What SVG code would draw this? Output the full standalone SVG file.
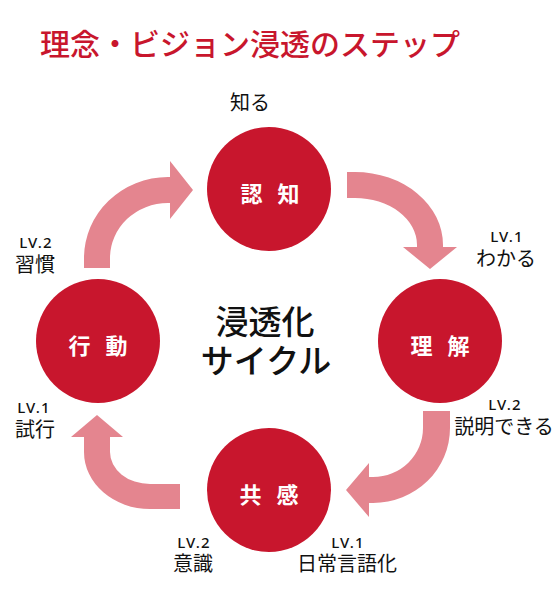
<svg xmlns="http://www.w3.org/2000/svg" width="560" height="594" viewBox="0 0 560 594">
<style>
.circ{fill:#c8162d}
.arr{fill:#e4858f}
.nl{font-family:"Noto Sans CJK JP","Noto Sans",sans-serif;font-size:22px;font-weight:700;fill:#fff;text-anchor:middle;word-spacing:10px}
.lv{font-family:"Noto Sans","Noto Sans CJK JP",sans-serif;font-size:15px;font-weight:500;fill:#111;text-anchor:middle;letter-spacing:1.2px}
.lb{font-family:"Noto Sans CJK JP","Noto Sans",sans-serif;font-size:20px;fill:#111;text-anchor:middle}
.ct{font-family:"Noto Sans CJK JP","Noto Sans",sans-serif;font-size:33px;font-weight:500;fill:#111;text-anchor:middle}
</style>
<rect width="560" height="594" fill="#fff"/>
<text x="40" y="55" font-family="'Noto Sans CJK JP','Noto Sans',sans-serif" font-size="30" font-weight="500" fill="#c8162d">理念・ビジョン浸透のステップ</text>
<text class="lb" x="250" y="110">知る</text>
<g id="connectors">
<path class="arr" d="M84,268 L84,258 A84,81 0 0 1 168,177 L170,177 L170,161 L193,190 L170,219 L170,203 L168,203 A58,55 0 0 0 110,258 L110,268 Z"/>
<path class="arr" d="M347,172 L355,172 A88,73 0 0 1 443,245 L443,247 L457,247 L430,269 L403,247 L417,247 L417,245 A62,47 0 0 0 355,198 L347,198 Z"/>
<path class="arr" d="M423,411 L450,411 L450,428 A77,75 0 0 1 373,503 L369,503 L369,517 L346,490 L369,463 L369,477 L373,477 A50,49 0 0 0 423,428 Z"/>
<path class="arr" d="M180,484 L180,509 L150,509 A66,57 0 0 1 84,452 L84,437 L71,437 L97,415 L123,437 L110,437 L110,452 A40,32 0 0 0 150,484 Z"/>
</g>
<g id="node-ninchi">
<circle class="circ" cx="269" cy="189" r="62"/>
<text class="nl" x="270" y="202">認 知</text>
</g>
<g id="node-rikai">
<circle class="circ" cx="440" cy="341" r="62"/>
<text class="nl" x="440" y="354">理 解</text>
</g>
<g id="node-kyokan">
<circle class="circ" cx="269" cy="490" r="62"/>
<text class="nl" x="269" y="503">共 感</text>
</g>
<g id="node-kodo">
<circle class="circ" cx="98" cy="341" r="62"/>
<text class="nl" x="98" y="354">行 動</text>
</g>
<g id="center">
<text class="ct" x="265" y="334">浸透化</text>
<text class="ct" x="266" y="373">サイクル</text>
</g>
<g id="labels">
<text class="lv" x="507" y="242">LV.1</text>
<text class="lb" x="506" y="266">わかる</text>
<text class="lv" x="36" y="248">LV.2</text>
<text class="lb" x="35" y="272">習慣</text>
<text class="lv" x="34" y="413">LV.1</text>
<text class="lb" x="35" y="437">試行</text>
<text class="lv" x="505" y="410">LV.2</text>
<text class="lb" x="504" y="434">説明できる</text>
<text class="lv" x="194" y="548">LV.2</text>
<text class="lb" x="193" y="571">意識</text>
<text class="lv" x="348" y="548">LV.1</text>
<text class="lb" x="347" y="571">日常言語化</text>
</g>
</svg>
